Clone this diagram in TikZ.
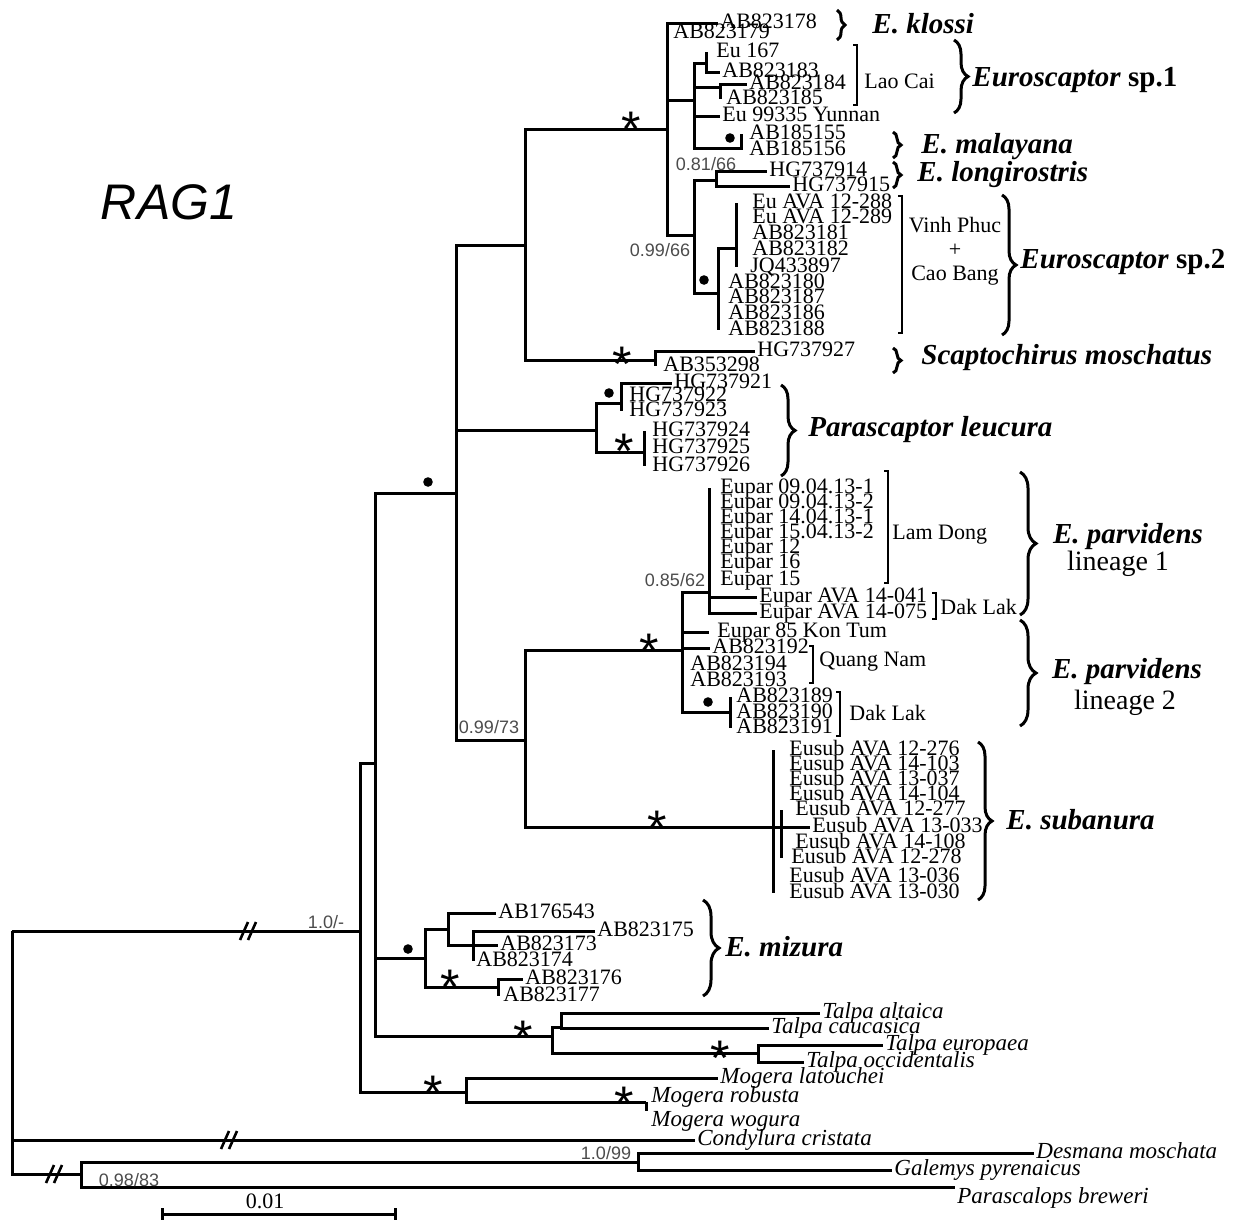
\documentclass[tikz,border=0pt]{standalone}
\usepackage{fontspec}
\setmainfont{Liberation Serif}
\setsansfont{Liberation Sans}
\usetikzlibrary{decorations.pathreplacing}

\tikzset{
  brk/.pic={\draw[line width=1.3pt] (-8,9) -- (0,-9) (0,9) -- (8,-9);}
}

\begin{document}
\begin{tikzpicture}[
    x=0.5pt, y=-0.5pt,
    br/.style={line width=1.5pt},
    leaf/.style={anchor=west, inner ysep=1pt, inner xsep=#1,
                 font=\fontsize{11}{11}\selectfont,
                 text height=1.5ex, text depth=0.25ex},
    leaf/.default=1pt,
    taxon/.style={leaf=#1, font=\fontsize{11.5}{11.5}\selectfont\itshape},
    taxon/.default=1pt,
    clade/.style={anchor=west, inner sep=0pt,
                  font=\fontsize{14.5}{15}\selectfont\bfseries},
    lin/.style={inner sep=0pt, font=\fontsize{14}{14}\selectfont},
    loc/.style={anchor=west, inner sep=0pt, font=\fontsize{11}{11}\selectfont},
    supp/.style={inner sep=0pt, text=black!70,
                 font=\sffamily\fontsize{9}{9}\selectfont},
    ast/.style={inner sep=0pt, anchor=base, yshift=-14pt,
                font=\sffamily\fontsize{25}{25}\selectfont},
    bkt/.style={line width=1.2pt},
    brc/.style={line width=1.5pt, decorate, decoration={brace, amplitude=#1}},
    brc/.default=6pt
  ]
  \useasboundingbox (0,0) rectangle (1238,1222);
  \fill[white] (0,0) rectangle (1238,1222);

  \node[font=\sffamily\itshape\fontsize{25}{25}\selectfont] (title) at (169,202) {RAG1};

  % internal nodes
  \coordinate (root)  at (12,931);
  \coordinate (ingr)  at (360,931);
  \coordinate (upper) at (375,763);
  \coordinate (core)  at (456,493);
  \coordinate (eusc)  at (525,245);
  \coordinate (euro)  at (667,129);
  \coordinate (sp1)   at (694,100);
  \coordinate (s167)  at (706,63);
  \coordinate (s184)  at (720,87);
  \coordinate (mal)   at (741,148);
  \coordinate (lsp2)  at (694,235);
  \coordinate (lon)   at (716,180);
  \coordinate (sp2)   at (718,293);
  \coordinate (sp2a)  at (736,248);
  \coordinate (scap)  at (655,360);
  \coordinate (para)  at (596,430);
  \coordinate (pa1)   at (621,403);
  \coordinate (pa2)   at (644,452);
  \coordinate (n9973) at (525,740);
  \coordinate (parv)  at (682,650);
  \coordinate (lin1)  at (709,592);
  \coordinate (dl2)   at (730,712);
  \coordinate (suba)  at (773,827);
  \coordinate (sub2)  at (781,827);
  \coordinate (mizu)  at (425,958);
  \coordinate (mz1)   at (448,929);
  \coordinate (mz2)   at (473,945);
  \coordinate (mz3)   at (498,987);
  \coordinate (talp)  at (552,1036);
  \coordinate (ta1)   at (561,1027);
  \coordinate (ta2)   at (758,1053);
  \coordinate (moge)  at (466,1092);
  \coordinate (mg2)   at (646,1102);
  \coordinate (outg)  at (81,1174);
  \coordinate (desg)  at (638,1162);

  % Euroscaptor klossi / sp.1 / malayana
  \node[leaf] (k178) at (718,23) {AB823178};
  \node[leaf=3pt] (k179) at (667,33) {AB823179};
  \node[leaf=5pt] (e167) at (706,52) {Eu 167};
  \node[leaf] (b183) at (720,72) {AB823183};
  \node[leaf] (b184) at (747,84) {AB823184};
  \node[leaf=3pt] (b185) at (720,99) {AB823185};
  \node[leaf] (yun)  at (720,116) {Eu 99335 Yunnan};
  \node[leaf=4pt] (m155) at (741,134) {AB185155};
  \node[leaf=4pt] (m156) at (741,150) {AB185156};

  % longirostris / sp.2
  \node[leaf] (h914) at (767,171) {HG737914};
  \node[leaf] (h915) at (790,186) {HG737915};
  \node[leaf=8pt] (a288) at (736,203) {Eu AVA 12-288};
  \node[leaf=8pt] (a289) at (736,218) {Eu AVA 12-289};
  \node[leaf=8pt] (b181) at (736,234) {AB823181};
  \node[leaf=8pt] (b182) at (736,250) {AB823182};
  \node[leaf=7pt] (jq)   at (736,267) {JQ433897};
  \node[leaf=5pt] (b180) at (718,283) {AB823180};
  \node[leaf=5pt] (b187) at (718,298) {AB823187};
  \node[leaf=5pt] (b186) at (718,314) {AB823186};
  \node[leaf=5pt] (b188) at (718,330) {AB823188};

  % Scaptochirus, Parascaptor
  \node[leaf] (h927) at (755,351) {HG737927};
  \node[leaf=4pt] (b298) at (655,366) {AB353298};
  \node[leaf] (h921) at (672,383) {HG737921};
  \node[leaf=4pt] (h922) at (621,396) {HG737922};
  \node[leaf=4pt] (h923) at (621,411) {HG737923};
  \node[leaf=4pt] (h924) at (644,431) {HG737924};
  \node[leaf=4pt] (h925) at (644,448) {HG737925};
  \node[leaf=4pt] (h926) at (644,466) {HG737926};

  % E. parvidens
  \node[leaf=5.5pt] (ld1) at (709,488) {Eupar 09.04.13-1};
  \node[leaf=5.5pt] (ld2) at (709,503) {Eupar 09.04.13-2};
  \node[leaf=5.5pt] (ld3) at (709,518) {Eupar 14.04.13-1};
  \node[leaf=5.5pt] (ld4) at (709,533) {Eupar 15.04.13-2};
  \node[leaf=5.5pt] (ld5) at (709,548) {Eupar 12};
  \node[leaf=5.5pt] (ld6) at (709,563) {Eupar 16};
  \node[leaf=5.5pt] (ld7) at (709,580) {Eupar 15};
  \node[leaf] (d041) at (757,597) {Eupar AVA 14-041};
  \node[leaf] (d075) at (757,613) {Eupar AVA 14-075};
  \node[leaf=4pt] (kon)  at (709,632) {Eupar 85 Kon Tum};
  \node[leaf] (b192) at (710,648) {AB823192};
  \node[leaf=4pt] (b194) at (682,665) {AB823194};
  \node[leaf=4pt] (b193) at (682,681) {AB823193};
  \node[leaf=3pt] (b189) at (730,697) {AB823189};
  \node[leaf=3pt] (b190) at (730,713) {AB823190};
  \node[leaf=3pt] (b191) at (730,728) {AB823191};

  % E. subanura
  \node[leaf=8pt] (u276) at (773,750) {Eusub AVA 12-276};
  \node[leaf=8pt] (u103) at (773,765) {Eusub AVA 14-103};
  \node[leaf=8pt] (u037) at (773,780) {Eusub AVA 13-037};
  \node[leaf=8pt] (u104) at (773,795) {Eusub AVA 14-104};
  \node[leaf=7pt] (u277) at (781,810) {Eusub AVA 12-277};
  \node[leaf] (u033) at (810,827) {Eusub AVA 13-033};
  \node[leaf=7pt] (u108) at (781,843) {Eusub AVA 14-108};
  \node[leaf=5pt] (u278) at (781,858) {Eusub AVA 12-278};
  \node[leaf=8pt] (u036) at (773,877) {Eusub AVA 13-036};
  \node[leaf=8pt] (u030) at (773,893) {Eusub AVA 13-030};

  % E. mizura
  \node[leaf] (a543) at (496,913) {AB176543};
  \node[leaf] (b175) at (595,931) {AB823175};
  \node[leaf] (b173) at (498,945) {AB823173};
  \node[leaf=1.5pt] (b174) at (473,961) {AB823174};
  \node[leaf] (b176) at (523,979) {AB823176};
  \node[leaf=2.5pt] (b177) at (498,996) {AB823177};

  % Talpa, Mogera, outgroups
  \node[taxon] (alt) at (820,1013) {Talpa altaica};
  \node[taxon] (cau) at (769,1028) {Talpa caucasica};
  \node[taxon] (eur) at (883,1045) {Talpa europaea};
  \node[taxon] (occ) at (804,1062) {Talpa occidentalis};
  \node[taxon] (lat) at (718,1078) {Mogera latouchei};
  \node[taxon=2.5pt] (rob) at (646,1097) {Mogera robusta};
  \node[taxon=2.5pt] (wog) at (646,1121) {Mogera wogura};
  \node[taxon] (cond) at (695,1140) {Condylura cristata};
  \node[taxon] (des) at (1034,1153) {Desmana moschata};
  \node[taxon] (gal) at (892,1170) {Galemys pyrenaicus};
  \node[taxon] (par) at (955,1198) {Parascalops breweri};

  % branches
  \draw[br] (root) |- (ingr) (root) |- (cond.west) (root) |- (outg);
  \draw[br] (ingr) |- (upper) (ingr) |- (moge);
  \draw[br] (upper) |- (core) (upper) |- (mizu) (upper) |- (talp);
  \draw[br] (core) |- (eusc) (core) |- (para) (core) |- (n9973);
  \draw[br] (eusc) |- (euro) (eusc) |- (scap);
  \draw[br] (euro) |- (k178.west) (euro) |- (k179.west) (euro) |- (sp1) (euro) |- (lsp2);
  \draw[br] (sp1) |- (s167) (sp1) |- (s184) (sp1) |- (yun.west) (sp1) |- (mal);
  \draw[br] (s167) |- (e167.west) (s167) |- (b183.west);
  \draw[br] (s184) |- (b184.west) (s184) |- (b185.west);
  \draw[br] (mal) |- (m155.west) (mal) |- (m156.west);
  \draw[br] (lsp2) |- (lon) (lsp2) |- (sp2);
  \draw[br] (lon) |- (h914.west) (lon) |- (h915.west);
  \draw[br] (sp2) |- (sp2a) (sp2) |- (b180.west) (sp2) |- (b187.west)
            (sp2) |- (b186.west) (sp2) |- (b188.west);
  \draw[br] (sp2a) |- (a288.west) (sp2a) |- (a289.west) (sp2a) |- (b181.west)
            (sp2a) |- (b182.west) (sp2a) |- (jq.west);
  \draw[br] (scap) |- (h927.west) (scap) |- (b298.west);
  \draw[br] (para) |- (pa1) (para) |- (pa2);
  \draw[br] (pa1) |- (h921.west) (pa1) |- (h922.west) (pa1) |- (h923.west);
  \draw[br] (pa2) |- (h924.west) (pa2) |- (h925.west) (pa2) |- (h926.west);
  \draw[br] (n9973) |- (parv) (n9973) |- (suba);
  \draw[br] (parv) |- (lin1) (parv) |- (kon.west) (parv) |- (b192.west)
            (parv) |- (b194.west) (parv) |- (b193.west) (parv) |- (dl2);
  \draw[br] (lin1) |- (ld1.west) (lin1) |- (ld2.west) (lin1) |- (ld3.west)
            (lin1) |- (ld4.west) (lin1) |- (ld5.west) (lin1) |- (ld6.west)
            (lin1) |- (ld7.west) (lin1) |- (d041.west) (lin1) |- (d075.west);
  \draw[br] (dl2) |- (b189.west) (dl2) |- (b190.west) (dl2) |- (b191.west);
  \draw[br] (suba) |- (u276.west) (suba) |- (u103.west) (suba) |- (u037.west)
            (suba) |- (u104.west) (suba) |- (sub2) (suba) |- (u036.west)
            (suba) |- (u030.west);
  \draw[br] (sub2) |- (u277.west) (sub2) |- (u033.west) (sub2) |- (u108.west)
            (sub2) |- (u278.west);
  \draw[br] (mizu) |- (mz1) (mizu) |- (mz3);
  \draw[br] (mz1) |- (a543.west) (mz1) |- (mz2);
  \draw[br] (mz2) |- (b175.west) (mz2) |- (b173.west) (mz2) |- (b174.west);
  \draw[br] (mz3) |- (b176.west) (mz3) |- (b177.west);
  \draw[br] (talp) |- (ta1) (talp) |- (ta2);
  \draw[br] (ta1) |- (alt.west) (ta1) |- (cau.west);
  \draw[br] (ta2) |- (eur.west) (ta2) |- (occ.west);
  \draw[br] (moge) |- (lat.west) (moge) |- (mg2);
  \draw[br] (mg2) |- (rob.south west) (mg2) |- (wog.north west);
  \draw[br] (outg) |- (desg) (outg) |- (par.north west);
  \draw[br] (desg) |- (des.west) (desg) |- (gal.west);

  % broken branches
  \pic at (248,931) {brk};
  \pic at (229,1140) {brk};
  \pic at (54,1174) {brk};

  % support values
  \node[supp] (s1) at (326,922) {1.0/-};
  \node[supp] (s2) at (489,727) {0.99/73};
  \node[supp] (s3) at (675,580) {0.85/62};
  \node[supp] (s4) at (706,164) {0.81/66};
  \node[supp] (s5) at (660,250) {0.99/66};
  \node[supp] (s6) at (606,1153) {1.0/99};
  \node[supp] (s7) at (129,1180) {0.98/83};

  \node[ast] (x1) at (631,118) {*};
  \node[ast] (x2) at (622,353) {*};
  \node[ast] (x3) at (624,440) {*};
  \node[ast] (x4) at (649,640) {*};
  \node[ast] (x5) at (657,817) {*};
  \node[ast] (x6) at (450,976) {*};
  \node[ast] (x7) at (523,1027) {*};
  \node[ast] (x8) at (720,1047) {*};
  \node[ast] (x9) at (433,1082) {*};
  \node[ast] (x10) at (624,1093) {*};

  \fill (428,482) circle (2.4pt);
  \fill (408,949) circle (2.4pt);
  \fill (730,138) circle (2.4pt);
  \fill (704,280) circle (2.4pt);
  \fill (609,393) circle (2.4pt);
  \fill (708,702) circle (2.4pt);

  % localities
  \draw[bkt] (853,45) -| (857,105) -- (853,105);
  \draw[bkt] (898,196) -| (902,333) -- (898,333);
  \draw[bkt] (884,471) -| (888,583) -- (884,583);
  \draw[bkt] (932,593) -| (936,619) -- (932,619);
  \draw[bkt] (809,646) -| (813,683) -- (809,683);
  \draw[bkt] (836,692) -| (840,736) -- (836,736);
  \node[loc] (laocai) at (864,81) {Lao Cai};
  \node[loc, anchor=center] (vinh) at (955,225) {Vinh Phuc};
  \node[loc, anchor=center] (plus) at (955,250) {+};
  \node[loc, anchor=center] (cao) at (955,276) {Cao Bang};
  \node[loc] (lamdong) at (892,535) {Lam Dong};
  \node[loc] (daklak1) at (940,607) {Dak Lak};
  \node[loc] (quang) at (819,662) {Quang Nam};
  \node[loc] (daklak2) at (849,713) {Dak Lak};

  % clades
  \draw[brc=4pt] (837,10) -- (837,40);
  \draw[brc=7pt] (954,40) -- (954,113);
  \draw[brc=4pt] (893,132) -- (893,158);
  \draw[brc=4pt] (893,162) -- (893,188);
  \draw[brc=7pt] (1002,195) -- (1002,335);
  \draw[brc=4pt] (893,348) -- (893,373);
  \draw[brc=7pt] (781,385) -- (781,476);
  \draw[brc=8pt] (1020,472) -- (1020,615);
  \draw[brc=8pt] (1020,620) -- (1020,726);
  \draw[brc=7pt] (978,742) -- (978,900);
  \draw[brc=8pt] (703,900) -- (703,996);

  \node[clade] (klossi) at (872,24) {\itshape E. klossi};
  \node[clade] (esp1) at (972,80) {\itshape Euroscaptor\/\upshape{} sp.1};
  \node[clade] (malay) at (921,147) {\itshape E. malayana};
  \node[clade] (longi) at (917,175) {\itshape E. longirostris};
  \node[clade] (esp2) at (1020,262) {\itshape Euroscaptor\/\upshape{} sp.2};
  \node[clade] (scapto) at (921,358) {\itshape Scaptochirus moschatus};
  \node[clade] (leuc) at (808,430) {\itshape Parascaptor leucura};
  \node[clade, anchor=center] (parv1) at (1128,537) {\itshape E. parvidens};
  \node[lin] (lg1) at (1118,564) {lineage 1};
  \node[clade, anchor=center] (parv2) at (1127,672) {\itshape E. parvidens};
  \node[lin] (lg2) at (1125,703) {lineage 2};
  \node[clade] (subanu) at (1006,820) {\itshape E. subanura};
  \node[clade] (mizur) at (725,947) {\itshape E. mizura};

  % scale
  \node[font=\fontsize{11}{11}\selectfont] (sbl) at (265,1201) {0.01};
  \draw[line width=1.5pt] (162,1208) -- (162,1220) (162,1214) -- (395,1214)
        (395,1208) -- (395,1220);
\end{tikzpicture}
\end{document}
